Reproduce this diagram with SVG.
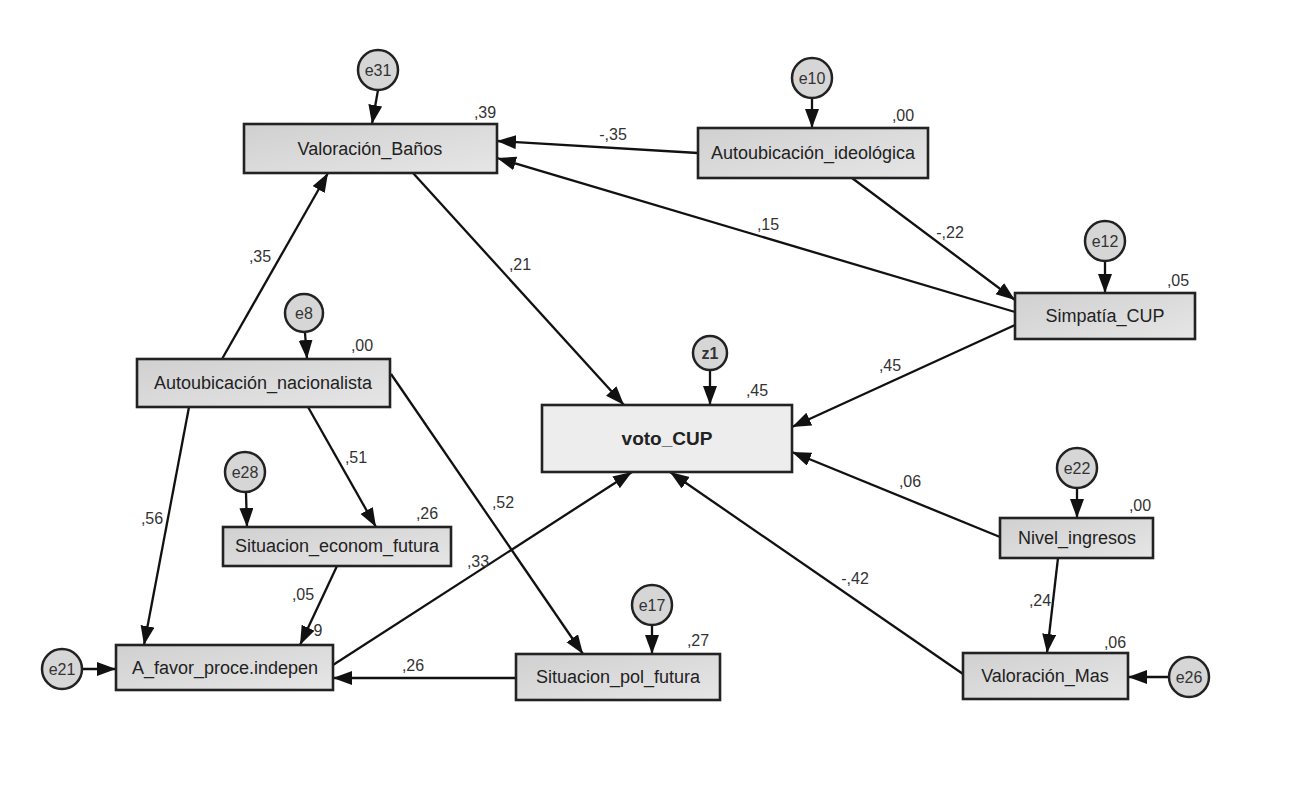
<svg xmlns="http://www.w3.org/2000/svg" width="1299" height="806" viewBox="0 0 1299 806">
<defs>
<linearGradient id="g" x1="0" y1="0" x2="1" y2="1">
<stop offset="0" stop-color="#d0d0d0"/>
<stop offset="1" stop-color="#e6e6e6"/>
</linearGradient>
<marker id="a" markerUnits="userSpaceOnUse" markerWidth="22" markerHeight="16" refX="19" refY="7" orient="auto">
<path d="M0,0 L19,7 L0,14 Z" fill="#111"/>
</marker>
<style>
.box{fill:url(#g);stroke:#222;stroke-width:2.6}
.main{fill:#ededed;stroke:#222;stroke-width:2.6}
.err{fill:#d6d6d6;stroke:#222;stroke-width:2.5}
.lbl{font-family:"Liberation Sans",Arial,sans-serif;font-size:18px;fill:#222;text-anchor:middle;dominant-baseline:central}
.elb{font-family:"Liberation Sans",Arial,sans-serif;font-size:16px;fill:#333;text-anchor:middle;dominant-baseline:central}
.num{font-family:"Liberation Sans",Arial,sans-serif;font-size:16px;fill:#333;text-anchor:middle}
.c{stroke:#111;stroke-width:2.3;fill:none;marker-end:url(#a)}
</style>
</defs>
<rect width="1299" height="806" fill="#fff"/>
<g id="connectors">
<line class="c" x1="378" y1="90" x2="372" y2="124"/>
<line class="c" x1="698" y1="153" x2="497" y2="141"/>
<line class="c" x1="1015" y1="312" x2="497" y2="158"/>
<line class="c" x1="852" y1="178" x2="1015" y2="300"/>
<line class="c" x1="812" y1="99" x2="812" y2="128"/>
<line class="c" x1="413" y1="173" x2="624" y2="405"/>
<line class="c" x1="222" y1="359" x2="328" y2="173"/>
<line class="c" x1="305" y1="333" x2="307" y2="359"/>
<line class="c" x1="308" y1="407" x2="376" y2="527"/>
<line class="c" x1="391" y1="374" x2="583" y2="654"/>
<line class="c" x1="189" y1="407" x2="144" y2="645"/>
<line class="c" x1="246" y1="493" x2="247" y2="527"/>
<line class="c" x1="337" y1="566" x2="300" y2="645"/>
<line class="c" x1="333" y1="665" x2="632" y2="472"/>
<line class="c" x1="516" y1="678" x2="333" y2="678"/>
<line class="c" x1="652" y1="626" x2="652" y2="654"/>
<line class="c" x1="83" y1="669" x2="116" y2="669"/>
<line class="c" x1="1015" y1="325" x2="792" y2="427"/>
<line class="c" x1="1105" y1="261" x2="1105" y2="293"/>
<line class="c" x1="710" y1="370" x2="710" y2="405"/>
<line class="c" x1="1000" y1="537" x2="792" y2="452"/>
<line class="c" x1="1077" y1="489" x2="1077" y2="518"/>
<line class="c" x1="1058" y1="558" x2="1047" y2="653"/>
<line class="c" x1="963" y1="674" x2="670" y2="472"/>
<line class="c" x1="1168" y1="677" x2="1128" y2="677"/>
<text class="num" x="613" y="140">-,35</text>
<text class="num" x="768" y="230">,15</text>
<text class="num" x="950" y="238">-,22</text>
<text class="num" x="520" y="270">,21</text>
<text class="num" x="260" y="262">,35</text>
<text class="num" x="356" y="463">,51</text>
<text class="num" x="503" y="508">,52</text>
<text class="num" x="152" y="524">,56</text>
<text class="num" x="303" y="600">,05</text>
<text class="num" x="318" y="636">9</text>
<text class="num" x="478" y="567">,33</text>
<text class="num" x="413" y="671">,26</text>
<text class="num" x="890" y="371">,45</text>
<text class="num" x="910" y="487">,06</text>
<text class="num" x="1040" y="606">,24</text>
<text class="num" x="855" y="584">-,42</text>
</g>
<g id="Valoracion_Banos">
<rect class="box" x="244" y="124" width="253" height="49"/>
<text class="lbl" x="370" y="149">Valoración_Baños</text>
<text class="num" x="485" y="118">,39</text>
</g>
<g id="e31"><circle class="err" cx="378" cy="70" r="20"/><text class="elb" x="378" y="70">e31</text></g>
<g id="Autoubicacion_ideologica">
<rect class="box" x="698" y="128" width="230" height="50"/>
<text class="lbl" x="813" y="153">Autoubicación_ideológica</text>
<text class="num" x="903" y="121">,00</text>
</g>
<g id="e10"><circle class="err" cx="812" cy="78" r="20"/><text class="elb" x="812" y="78">e10</text></g>
<g id="Autoubicacion_nacionalista">
<rect class="box" x="137" y="359" width="253" height="48"/>
<text class="lbl" x="263" y="383">Autoubicación_nacionalista</text>
<text class="num" x="362" y="351">,00</text>
</g>
<g id="e8"><circle class="err" cx="304" cy="313" r="19"/><text class="elb" x="304" y="313">e8</text></g>
<g id="voto_CUP">
<rect class="main" x="542" y="405" width="250" height="67"/>
<text class="lbl" x="667" y="438" style="font-weight:bold;font-size:19px">voto_CUP</text>
<text class="num" x="757" y="396">,45</text>
</g>
<g id="z1"><circle class="err" cx="710" cy="353" r="17"/><text class="elb" x="710" y="353" style="font-weight:bold">z1</text></g>
<g id="Simpatia_CUP">
<rect class="box" x="1015" y="293" width="180" height="46"/>
<text class="lbl" x="1105" y="316">Simpatía_CUP</text>
<text class="num" x="1178" y="286">,05</text>
</g>
<g id="e12"><circle class="err" cx="1105" cy="241" r="20"/><text class="elb" x="1105" y="241">e12</text></g>
<g id="Situacion_econom_futura">
<rect class="box" x="223" y="527" width="228" height="39"/>
<text class="lbl" x="337" y="546">Situacion_econom_futura</text>
<text class="num" x="427" y="519">,26</text>
</g>
<g id="e28"><circle class="err" cx="245" cy="472" r="20"/><text class="elb" x="245" y="472">e28</text></g>
<g id="A_favor_proce_indepen">
<rect class="box" x="116" y="645" width="217" height="45"/>
<text class="lbl" x="225" y="668">A_favor_proce.indepen</text>
</g>
<g id="e21"><circle class="err" cx="62" cy="669" r="20"/><text class="elb" x="62" y="669">e21</text></g>
<g id="Situacion_pol_futura">
<rect class="box" x="516" y="654" width="204" height="46"/>
<text class="lbl" x="618" y="677">Situacion_pol_futura</text>
<text class="num" x="698" y="646">,27</text>
</g>
<g id="e17"><circle class="err" cx="652" cy="605" r="20"/><text class="elb" x="652" y="605">e17</text></g>
<g id="Nivel_ingresos">
<rect class="box" x="1000" y="518" width="153" height="40"/>
<text class="lbl" x="1077" y="538">Nivel_ingresos</text>
<text class="num" x="1140" y="511">,00</text>
</g>
<g id="e22"><circle class="err" cx="1077" cy="468" r="20"/><text class="elb" x="1077" y="468">e22</text></g>
<g id="Valoracion_Mas">
<rect class="box" x="963" y="653" width="165" height="46"/>
<text class="lbl" x="1045" y="676">Valoración_Mas</text>
<text class="num" x="1115" y="648">,06</text>
</g>
<g id="e26"><circle class="err" cx="1189" cy="677" r="20"/><text class="elb" x="1189" y="677">e26</text></g>
</svg>
